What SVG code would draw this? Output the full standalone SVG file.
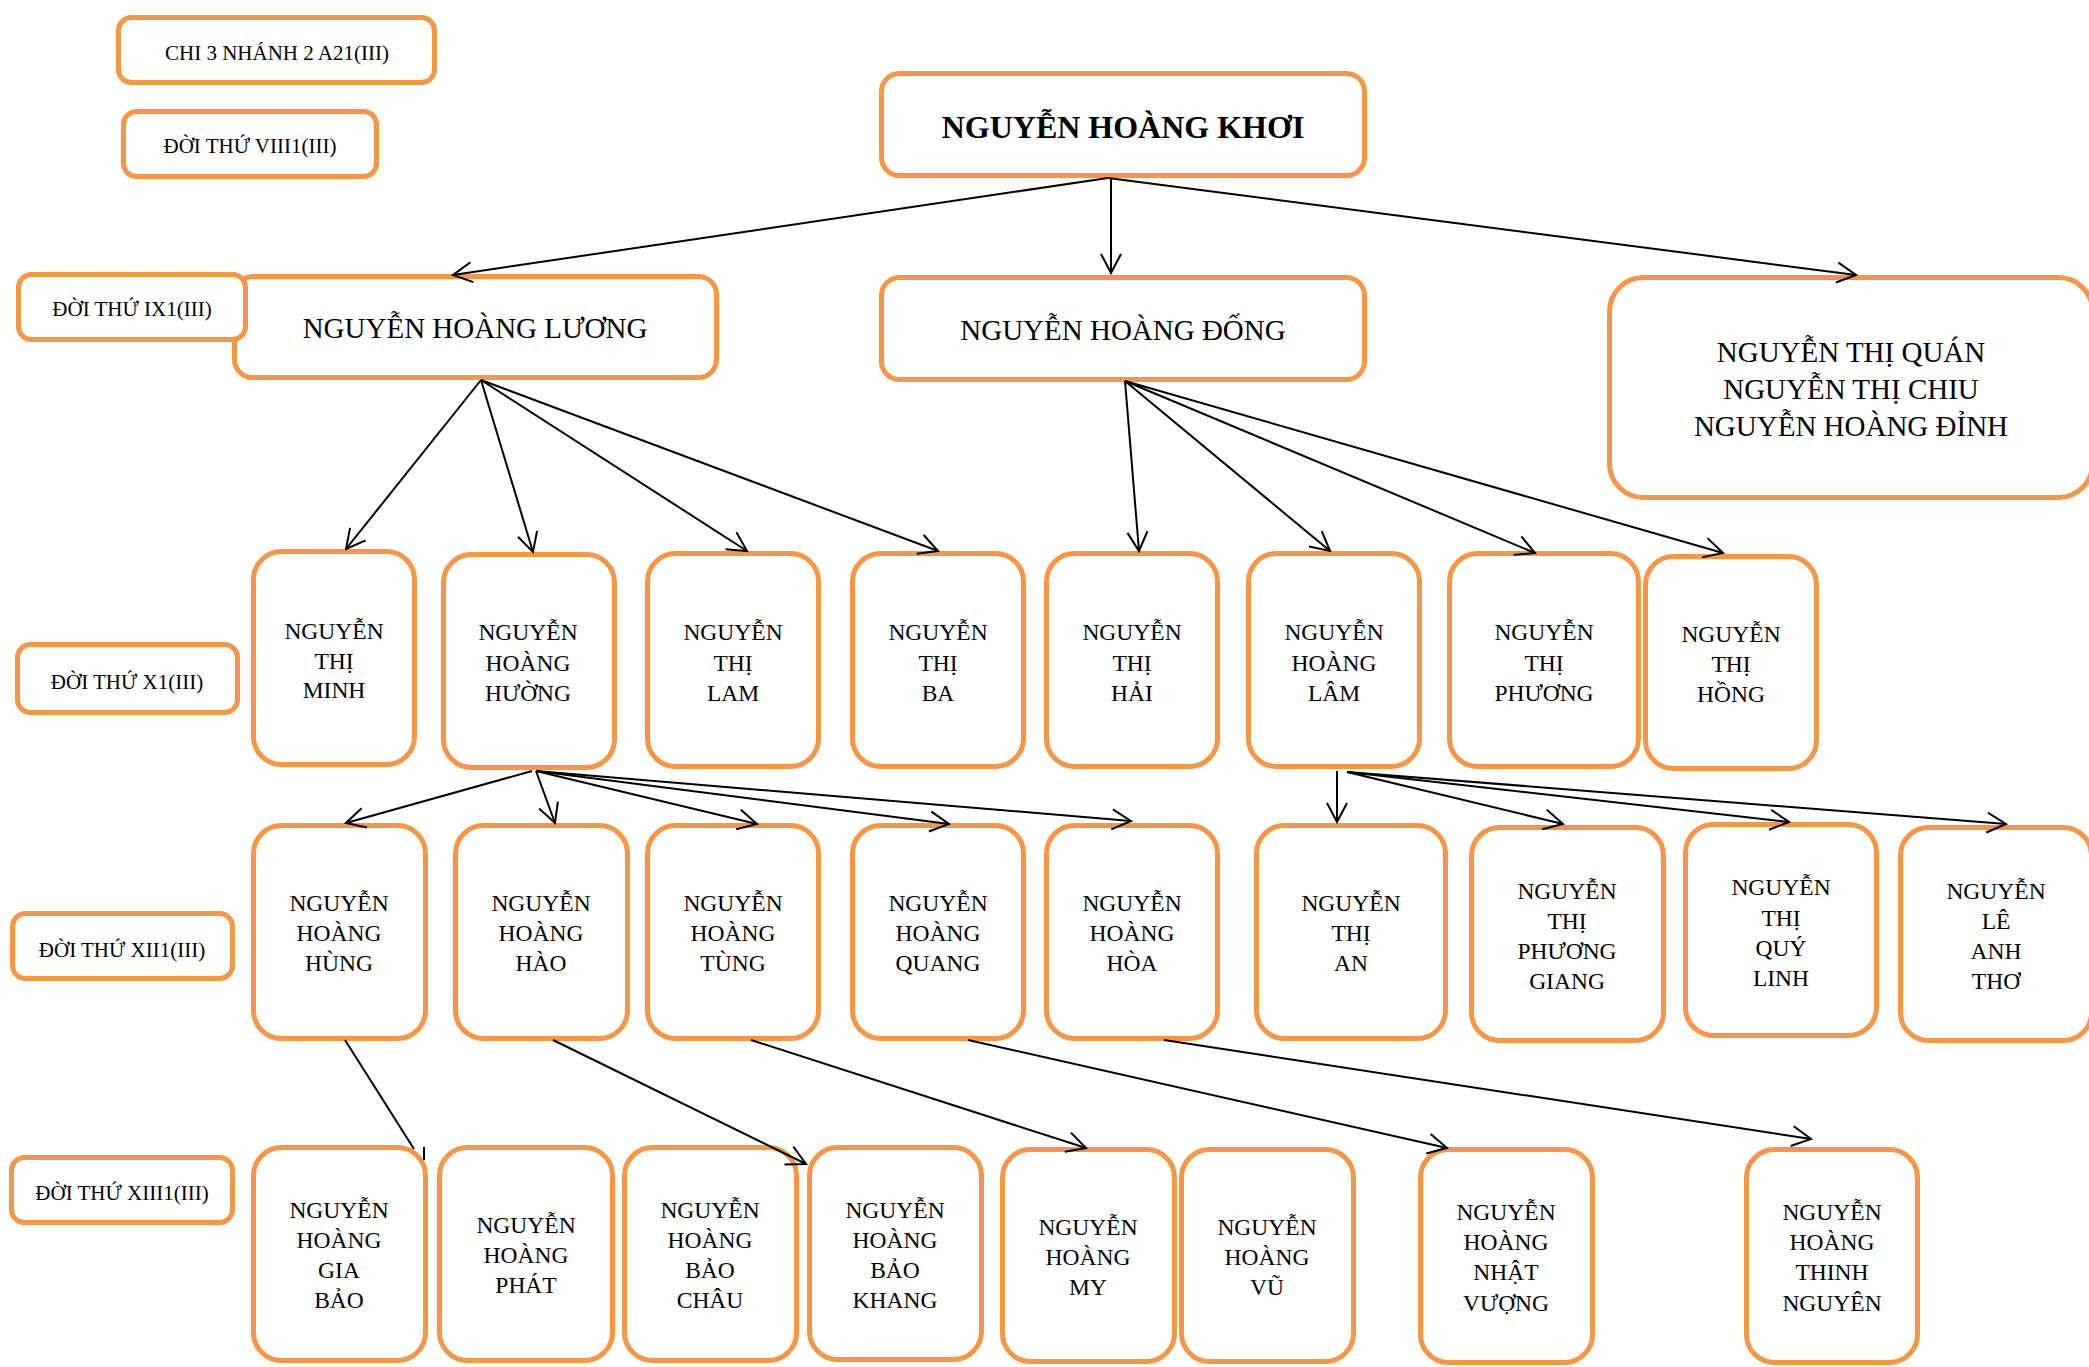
<svg xmlns="http://www.w3.org/2000/svg" width="2089" height="1367" viewBox="0 0 2089 1367">
<defs>
<style>
.box{fill:#fff;stroke:#F79646;stroke-width:5}
.t{font-family:"Liberation Serif","Times New Roman",serif;fill:#000;text-anchor:middle}
.lab{font-size:21px}
.big{font-size:29px}
.top{font-size:32px;font-weight:bold}
.nm{font-size:23.5px}
.c{stroke:#000;stroke-width:2;fill:none}
.a{marker-end:url(#arr)}
</style>
<marker id="arr" markerUnits="userSpaceOnUse" markerWidth="24" markerHeight="24" viewBox="0 0 24 24" refX="22" refY="12" orient="auto">
<path d="M3,2 L22,12 L3,22" fill="none" stroke="#000" stroke-width="2"/>
</marker>
</defs>
<rect width="2089" height="1367" fill="#fff"/>

<g id="n-khoi"><rect class="box" x="881.5" y="73.5" width="483" height="102" rx="18"/><text class="t top" x="1123" y="138">NGUYỄN HOÀNG KHƠI</text></g>
<g id="n-luong"><rect class="box" x="234.5" y="276.5" width="482" height="101" rx="18"/><text class="t big" x="475" y="338">NGUYỄN HOÀNG LƯƠNG</text></g>
<g id="n-dong"><rect class="box" x="881.5" y="277.5" width="483" height="102" rx="18"/><text class="t big" x="1123" y="340">NGUYỄN HOÀNG ĐỐNG</text></g>
<g id="n-quan"><rect class="box" x="1609.5" y="277.5" width="483" height="220" rx="34"/><text class="t big"><tspan x="1851" y="362">NGUYỄN THỊ QUÁN</tspan><tspan x="1851" y="399">NGUYỄN THỊ CHIU</tspan><tspan x="1851" y="436">NGUYỄN HOÀNG ĐỈNH</tspan></text></g>

<g id="l-chi"><rect class="box" x="118.5" y="17.5" width="316" height="65" rx="13"/><text class="t lab" x="277" y="60">CHI 3 NHÁNH 2 A21(III)</text></g>
<g id="l-viii"><rect class="box" x="123.5" y="111.5" width="253" height="65" rx="13"/><text class="t lab" x="250" y="153">ĐỜI THỨ VIII1(III)</text></g>
<g id="l-ix"><rect class="box" x="18.5" y="274.5" width="227" height="65" rx="13"/><text class="t lab" x="132" y="316">ĐỜI THỨ IX1(III)</text></g>
<g id="l-x"><rect class="box" x="17.5" y="644.5" width="220" height="68" rx="13"/><text class="t lab" x="127" y="689">ĐỜI THỨ X1(III)</text></g>
<g id="l-xii"><rect class="box" x="12.5" y="913.5" width="220" height="65" rx="13"/><text class="t lab" x="122" y="957">ĐỜI THỨ XII1(III)</text></g>
<g id="l-xiii"><rect class="box" x="11.5" y="1157.5" width="221" height="65" rx="13"/><text class="t lab" x="122" y="1200">ĐỜI THỨ XIII1(III)</text></g>

<g id="n-minh"><rect class="box" x="253.5" y="551.5" width="161" height="213" rx="28"/><text class="t nm"><tspan x="334" y="639">NGUYỄN</tspan><tspan x="334" y="669">THỊ</tspan><tspan x="334" y="698">MINH</tspan></text></g>
<g id="n-huong"><rect class="box" x="443.5" y="554.5" width="171" height="213" rx="28"/><text class="t nm"><tspan x="528" y="640">NGUYỄN</tspan><tspan x="528" y="671">HOÀNG</tspan><tspan x="528" y="701">HƯỜNG</tspan></text></g>
<g id="n-lam"><rect class="box" x="647.5" y="553.5" width="171" height="213" rx="28"/><text class="t nm"><tspan x="733" y="640">NGUYỄN</tspan><tspan x="733" y="671">THỊ</tspan><tspan x="733" y="701">LAM</tspan></text></g>
<g id="n-ba"><rect class="box" x="852.5" y="553.5" width="171" height="213" rx="28"/><text class="t nm"><tspan x="938" y="640">NGUYỄN</tspan><tspan x="938" y="671">THỊ</tspan><tspan x="938" y="701">BA</tspan></text></g>
<g id="n-hai"><rect class="box" x="1046.5" y="553.5" width="171" height="213" rx="28"/><text class="t nm"><tspan x="1132" y="640">NGUYỄN</tspan><tspan x="1132" y="671">THỊ</tspan><tspan x="1132" y="701">HẢI</tspan></text></g>
<g id="n-lam2"><rect class="box" x="1248.5" y="553.5" width="171" height="213" rx="28"/><text class="t nm"><tspan x="1334" y="640">NGUYỄN</tspan><tspan x="1334" y="671">HOÀNG</tspan><tspan x="1334" y="701">LÂM</tspan></text></g>
<g id="n-phuong"><rect class="box" x="1449.5" y="553.5" width="189" height="213" rx="28"/><text class="t nm"><tspan x="1544" y="640">NGUYỄN</tspan><tspan x="1544" y="671">THỊ</tspan><tspan x="1544" y="701">PHƯƠNG</tspan></text></g>
<g id="n-hong"><rect class="box" x="1645.5" y="556.5" width="171" height="212" rx="28"/><text class="t nm"><tspan x="1731" y="642">NGUYỄN</tspan><tspan x="1731" y="672">THỊ</tspan><tspan x="1731" y="702">HỒNG</tspan></text></g>

<g id="n-hung"><rect class="box" x="253.5" y="825.5" width="172" height="213" rx="28"/><text class="t nm"><tspan x="339" y="911">NGUYỄN</tspan><tspan x="339" y="941">HOÀNG</tspan><tspan x="339" y="971">HÙNG</tspan></text></g>
<g id="n-hao"><rect class="box" x="455.5" y="825.5" width="172" height="213" rx="28"/><text class="t nm"><tspan x="541" y="911">NGUYỄN</tspan><tspan x="541" y="941">HOÀNG</tspan><tspan x="541" y="971">HÀO</tspan></text></g>
<g id="n-tung"><rect class="box" x="647.5" y="825.5" width="171" height="213" rx="28"/><text class="t nm"><tspan x="733" y="911">NGUYỄN</tspan><tspan x="733" y="941">HOÀNG</tspan><tspan x="733" y="971">TÙNG</tspan></text></g>
<g id="n-quang"><rect class="box" x="852.5" y="825.5" width="171" height="213" rx="28"/><text class="t nm"><tspan x="938" y="911">NGUYỄN</tspan><tspan x="938" y="941">HOÀNG</tspan><tspan x="938" y="971">QUANG</tspan></text></g>
<g id="n-hoa"><rect class="box" x="1046.5" y="825.5" width="171" height="213" rx="28"/><text class="t nm"><tspan x="1132" y="911">NGUYỄN</tspan><tspan x="1132" y="941">HOÀNG</tspan><tspan x="1132" y="971">HÒA</tspan></text></g>
<g id="n-an"><rect class="box" x="1256.5" y="825.5" width="189" height="213" rx="28"/><text class="t nm"><tspan x="1351" y="911">NGUYỄN</tspan><tspan x="1351" y="941">THỊ</tspan><tspan x="1351" y="971">AN</tspan></text></g>
<g id="n-giang"><rect class="box" x="1471.5" y="827.5" width="192" height="213" rx="28"/><text class="t nm"><tspan x="1567" y="899">NGUYỄN</tspan><tspan x="1567" y="929">THỊ</tspan><tspan x="1567" y="959">PHƯƠNG</tspan><tspan x="1567" y="989">GIANG</tspan></text></g>
<g id="n-linh"><rect class="box" x="1685.5" y="824.5" width="191" height="211" rx="28"/><text class="t nm"><tspan x="1781" y="895">NGUYỄN</tspan><tspan x="1781" y="926">THỊ</tspan><tspan x="1781" y="956">QUÝ</tspan><tspan x="1781" y="986">LINH</tspan></text></g>
<g id="n-tho"><rect class="box" x="1900.5" y="827.5" width="191" height="213" rx="28"/><text class="t nm"><tspan x="1996" y="899">NGUYỄN</tspan><tspan x="1996" y="929">LÊ</tspan><tspan x="1996" y="959">ANH</tspan><tspan x="1996" y="989">THƠ</tspan></text></g>

<g id="n-giabao"><rect class="box" x="253.5" y="1147.5" width="172" height="213" rx="28"/><text class="t nm"><tspan x="339" y="1218">NGUYỄN</tspan><tspan x="339" y="1248">HOÀNG</tspan><tspan x="339" y="1278">GIA</tspan><tspan x="339" y="1308">BẢO</tspan></text></g>
<g id="n-phat"><rect class="box" x="439.5" y="1147.5" width="173" height="213" rx="28"/><text class="t nm"><tspan x="526" y="1233">NGUYỄN</tspan><tspan x="526" y="1263">HOÀNG</tspan><tspan x="526" y="1293">PHÁT</tspan></text></g>
<g id="n-chau"><rect class="box" x="624.5" y="1147.5" width="172" height="213" rx="28"/><text class="t nm"><tspan x="710" y="1218">NGUYỄN</tspan><tspan x="710" y="1248">HOÀNG</tspan><tspan x="710" y="1278">BẢO</tspan><tspan x="710" y="1308">CHÂU</tspan></text></g>
<g id="n-khang"><rect class="box" x="809.5" y="1147.5" width="172" height="212" rx="28"/><text class="t nm"><tspan x="895" y="1218">NGUYỄN</tspan><tspan x="895" y="1248">HOÀNG</tspan><tspan x="895" y="1278">BẢO</tspan><tspan x="895" y="1308">KHANG</tspan></text></g>
<g id="n-my"><rect class="box" x="1002.5" y="1149.5" width="172" height="212" rx="28"/><text class="t nm"><tspan x="1088" y="1235">NGUYỄN</tspan><tspan x="1088" y="1265">HOÀNG</tspan><tspan x="1088" y="1295">MY</tspan></text></g>
<g id="n-vu"><rect class="box" x="1181.5" y="1149.5" width="172" height="212" rx="28"/><text class="t nm"><tspan x="1267" y="1235">NGUYỄN</tspan><tspan x="1267" y="1265">HOÀNG</tspan><tspan x="1267" y="1295">VŨ</tspan></text></g>
<g id="n-vuong"><rect class="box" x="1420.5" y="1149.5" width="172" height="213" rx="28"/><text class="t nm"><tspan x="1506" y="1220">NGUYỄN</tspan><tspan x="1506" y="1250">HOÀNG</tspan><tspan x="1506" y="1280">NHẬT</tspan><tspan x="1506" y="1311">VƯỢNG</tspan></text></g>
<g id="n-thinh"><rect class="box" x="1746.5" y="1149.5" width="171" height="213" rx="28"/><text class="t nm"><tspan x="1832" y="1220">NGUYỄN</tspan><tspan x="1832" y="1250">HOÀNG</tspan><tspan x="1832" y="1280">THINH</tspan><tspan x="1832" y="1311">NGUYÊN</tspan></text></g>

<g id="connectors">
<line class="c a" x1="1108" y1="178" x2="453" y2="275"/>
<line class="c a" x1="1111" y1="178" x2="1111" y2="273"/>
<line class="c a" x1="1108" y1="178" x2="1856" y2="275"/>
<line class="c a" x1="481" y1="380" x2="346" y2="549"/>
<line class="c a" x1="481" y1="380" x2="533" y2="552"/>
<line class="c a" x1="481" y1="380" x2="747" y2="551"/>
<line class="c a" x1="481" y1="380" x2="938" y2="551"/>
<line class="c a" x1="1125" y1="381" x2="1139" y2="551"/>
<line class="c a" x1="1125" y1="381" x2="1330" y2="551"/>
<line class="c a" x1="1125" y1="381" x2="1535" y2="553"/>
<line class="c a" x1="1125" y1="381" x2="1723" y2="553"/>
<line class="c a" x1="532" y1="771" x2="346" y2="823"/>
<line class="c a" x1="536" y1="771" x2="555" y2="823"/>
<line class="c a" x1="536" y1="771" x2="757" y2="824"/>
<line class="c a" x1="536" y1="771" x2="949" y2="824"/>
<line class="c a" x1="536" y1="771" x2="1131" y2="821"/>
<line class="c a" x1="1337" y1="771" x2="1337" y2="822"/>
<line class="c a" x1="1347" y1="772" x2="1563" y2="824"/>
<line class="c a" x1="1347" y1="772" x2="1789" y2="822"/>
<line class="c a" x1="1347" y1="772" x2="2006" y2="824"/>
<line class="c" x1="345" y1="1040" x2="414" y2="1149"/>
<line class="c" x1="424" y1="1147" x2="424" y2="1160"/>
<line class="c a" x1="553" y1="1040" x2="806" y2="1164"/>
<line class="c a" x1="751" y1="1040" x2="1086" y2="1148"/>
<line class="c a" x1="968" y1="1040" x2="1447" y2="1148"/>
<line class="c a" x1="1164" y1="1040" x2="1811" y2="1139"/>
</g>
</svg>
